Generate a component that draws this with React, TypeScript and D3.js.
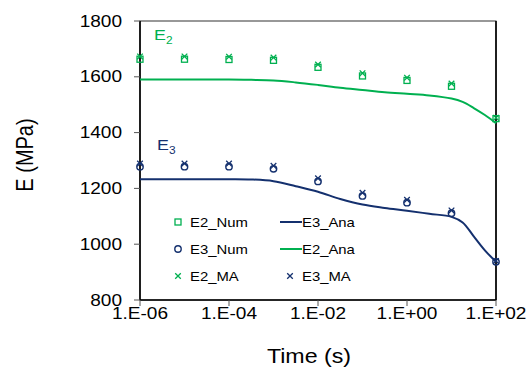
import React from 'react';
import * as d3 from 'd3';

// decade sample times for numerical / MA results
const times = [1e-6, 1e-5, 1e-4, 1e-3, 1e-2, 1e-1, 1e0, 1e1, 1e2];
const e2Num = [1663, 1663, 1662, 1659, 1634, 1603, 1587, 1566, 1450];
const e2MA = [1673, 1673, 1672, 1669, 1644, 1613, 1597, 1576, 1453];
const e3Num = [1278, 1278, 1278, 1270, 1225, 1173, 1149, 1111, 937];
const e3MA = [1289, 1289, 1289, 1281, 1236, 1184, 1159, 1121, 940];

// analytical curves read at half/quarter decades (log10 t)
const anaLogT = [-6, -5, -4, -3.5, -3, -2.5, -2, -1.5, -1, -0.5, 0, 0.5, 1, 1.25, 1.5, 1.75, 2];
const e2Ana = [1590, 1590, 1590, 1589, 1587, 1580, 1571, 1561, 1553, 1545, 1539, 1533, 1522, 1510, 1488, 1463, 1434];
const e3Ana = [1233, 1233, 1233, 1232, 1226, 1208, 1188, 1162, 1142, 1130, 1120, 1109, 1098, 1078, 1028, 978, 937];

const xTicks = [1e-6, 1e-4, 1e-2, 1e0, 1e2];
const xTickLabels = ['1.E-06', '1.E-04', '1.E-02', '1.E+00', '1.E+02'];
const yTicks = [800, 1000, 1200, 1400, 1600, 1800];

const GREEN = '#00B050';
const NAVY = '#14306E';
const FONT = '"Liberation Sans", Arial, sans-serif';
const SX = 1.19; // horizontal text stretch of the original

const W = 527;
const H = 369;
const plot = { left: 140, right: 496, top: 21, bottom: 300 };

const x = d3.scaleLog().domain([1e-6, 1e2]).range([plot.left, plot.right]);
const y = d3.scaleLinear().domain([800, 1800]).range([plot.bottom, plot.top]);

const T: React.FC<{ x: number; y: number; size: number; anchor?: string; fill?: string; rotate?: boolean; children: React.ReactNode }> = ({ x, y, size, anchor = 'start', fill = '#000', rotate, children }) => (
  <text
    transform={rotate ? `translate(${x},${y}) rotate(-90) scale(1,${SX})` : `translate(${x},${y}) scale(${SX},1)`}
    fontSize={size}
    fontFamily={FONT}
    textAnchor={anchor}
    fill={fill}
  >
    {children}
  </text>
);

const Square = ({ cx, cy, color }: { cx: number; cy: number; color: string }) => (
  <rect x={cx - 3} y={cy - 3} width={6} height={6} fill="none" stroke={color} strokeWidth={1.3} />
);
const Circle = ({ cx, cy, color }: { cx: number; cy: number; color: string }) => (
  <circle cx={cx} cy={cy} r={3.2} fill="none" stroke={color} strokeWidth={1.4} />
);
const Cross = ({ cx, cy, color }: { cx: number; cy: number; color: string }) => (
  <path d={`M${cx - 2.8},${cy - 2.8}L${cx + 2.8},${cy + 2.8}M${cx - 2.8},${cy + 2.8}L${cx + 2.8},${cy - 2.8}`} stroke={color} strokeWidth={1.3} />
);

export default function App() {
  const line = d3
    .line<number>()
    .x((_, i) => x(Math.pow(10, anaLogT[i])))
    .y((d) => y(d))
    .curve(d3.curveCatmullRom.alpha(0.5));

  const lgY = [222, 249, 276];

  return (
    <svg width={W} height={H} style={{ position: 'absolute', left: 0, top: 0, background: '#fff' }}>
      {/* plot frame */}
      <rect x={plot.left} y={plot.top} width={plot.right - plot.left} height={plot.bottom - plot.top} fill="none" stroke="#333" strokeWidth={1} />
      <line x1={plot.right} x2={plot.right} y1={plot.top} y2={plot.bottom} stroke="#000" strokeWidth={1.6} />

      {/* y axis */}
      <line x1={plot.left} x2={plot.left} y1={plot.top} y2={plot.bottom} stroke="#000" strokeWidth={1.6} />
      {yTicks.map((t) => (
        <g key={t}>
          <line x1={plot.left - 6} x2={plot.left} y1={y(t)} y2={y(t)} stroke="#555" strokeWidth={1} />
          <T x={122} y={y(t) + 5.5} size={16} anchor="end">{t}</T>
        </g>
      ))}

      {/* x axis */}
      <line x1={plot.left} x2={plot.right} y1={plot.bottom} y2={plot.bottom} stroke="#000" strokeWidth={1.6} />
      {xTicks.map((t, i) => (
        <g key={t}>
          <line x1={x(t)} x2={x(t)} y1={plot.bottom} y2={plot.bottom + 6} stroke="#555" strokeWidth={1} />
          <T x={x(t)} y={319} size={16} anchor="middle">{xTickLabels[i]}</T>
        </g>
      ))}

      <T x={309} y={363} size={19.5} anchor="middle">Time (s)</T>
      <T x={33} y={155} size={20} anchor="middle" rotate>E (MPa)</T>

      {/* analytical curves */}
      <path d={line(e2Ana) || ''} fill="none" stroke={GREEN} strokeWidth={2} />
      <path d={line(e3Ana) || ''} fill="none" stroke={NAVY} strokeWidth={2} />

      {/* numerical + MA markers */}
      {times.map((t, i) => (
        <g key={t}>
          <Square cx={x(t)} cy={y(e2Num[i])} color={GREEN} />
          <Cross cx={x(t)} cy={y(e2MA[i])} color={GREEN} />
          <Circle cx={x(t)} cy={y(e3Num[i])} color={NAVY} />
          <Cross cx={x(t)} cy={y(e3MA[i])} color={NAVY} />
        </g>
      ))}

      {/* curve labels */}
      <text x={154} y={40} fontSize={15} fontFamily={FONT} fill={GREEN} transform={`translate(${154 * (1 - SX)},0) scale(${SX},1)`}>
        E<tspan fontSize={10} dy={4}>2</tspan>
      </text>
      <text x={157} y={150} fontSize={15} fontFamily={FONT} fill={NAVY} transform={`translate(${157 * (1 - SX)},0) scale(${SX},1)`}>
        E<tspan fontSize={10} dy={4}>3</tspan>
      </text>

      {/* legend */}
      <Square cx={178} cy={lgY[0]} color={GREEN} />
      <T x={190} y={lgY[0] + 4.5} size={12.5}>E2_Num</T>
      <Circle cx={178} cy={lgY[1]} color={NAVY} />
      <T x={190} y={lgY[1] + 4.5} size={12.5}>E3_Num</T>
      <Cross cx={178} cy={lgY[2]} color={GREEN} />
      <T x={190} y={lgY[2] + 4.5} size={12.5}>E2_MA</T>

      <line x1={280} x2={302} y1={lgY[0]} y2={lgY[0]} stroke={NAVY} strokeWidth={2} />
      <T x={302} y={lgY[0] + 4.5} size={12.5}>E3_Ana</T>
      <line x1={280} x2={302} y1={lgY[1]} y2={lgY[1]} stroke={GREEN} strokeWidth={2} />
      <T x={302} y={lgY[1] + 4.5} size={12.5}>E2_Ana</T>
      <Cross cx={290} cy={lgY[2]} color={NAVY} />
      <T x={302} y={lgY[2] + 4.5} size={12.5}>E3_MA</T>
    </svg>
  );
}
